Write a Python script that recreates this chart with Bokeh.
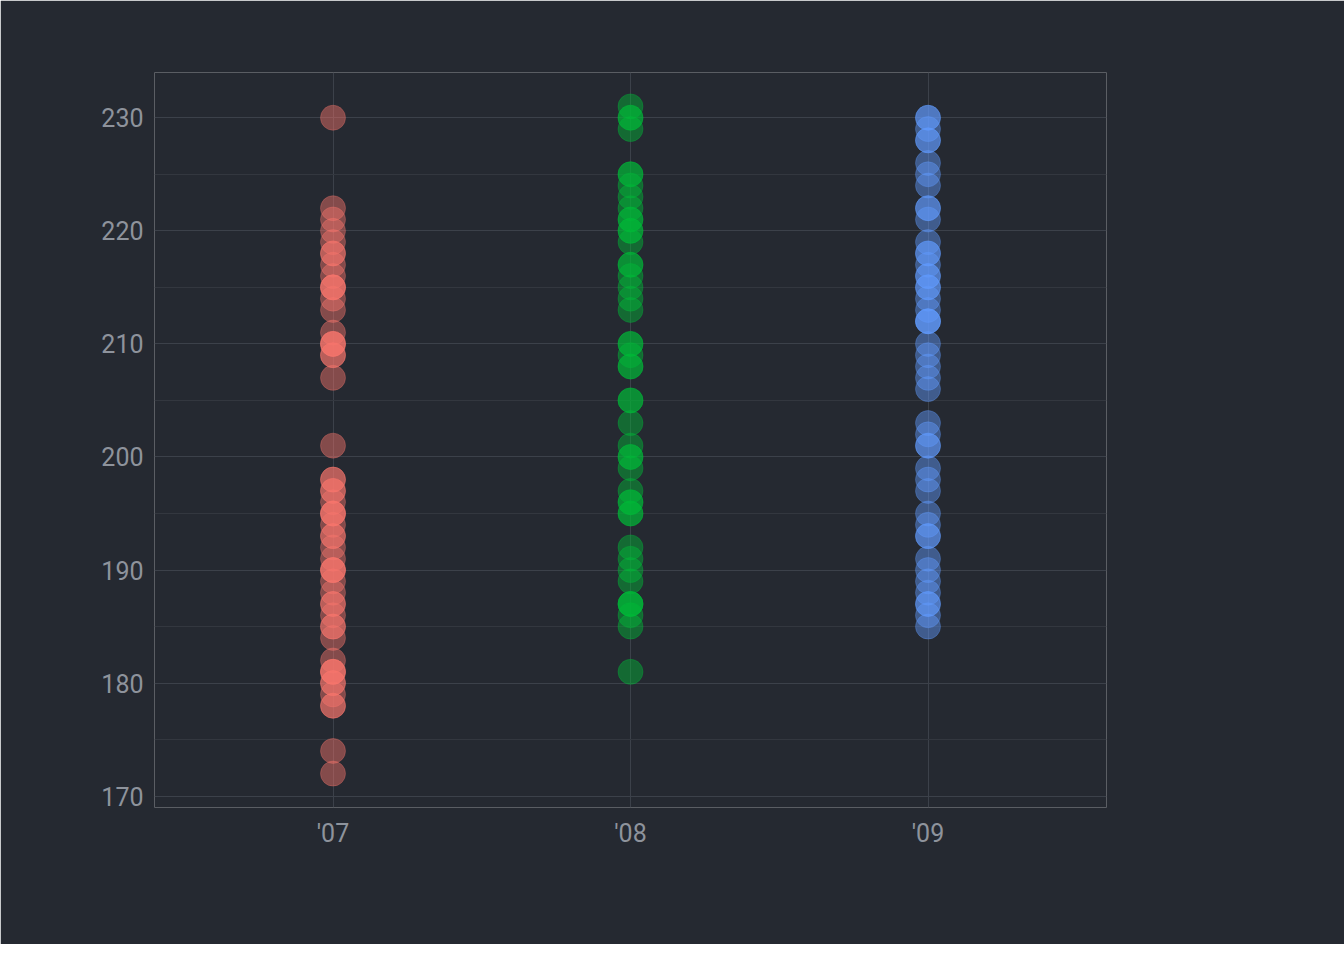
import math
from bokeh.plotting import figure
from bokeh.models import ColumnDataSource, Legend, LegendItem, FixedTicker, Label
from bokeh.embed import file_html
from bokeh.resources import INLINE

years = ["'07", "'08", "'09"]
colors = ["#F8766D", "#00BA38", "#619CFF"]
# (value, count)
vals_07 = [230,222,221,220,219,218,218,217,216,215,215,215,214,213,211,210,210,210,209,209,207,201,198,198,197,197,196,195,195,195,194,193,193,192,191,190,190,190,189,188,187,187,186,185,185,184,182,181,181,181,180,180,179,178,178,174,172]
vals_08 = [231,230,230,229,225,225,224,223,222,221,221,220,220,219,217,217,216,215,214,213,210,210,209,208,208,205,205,203,201,200,200,199,197,196,196,195,195,192,191,190,189,187,187,187,186,185,181]
vals_09 = [230,230,229,228,228,226,225,224,222,222,221,219,218,218,217,216,216,215,215,214,213,212,212,212,210,209,208,207,206,203,202,201,201,199,198,197,195,194,193,193,191,190,189,188,187,187,186,185]
series = [vals_07, vals_08, vals_09]

bg = "#252931"
p = figure(frame_width=952, frame_height=735, output_backend="svg", toolbar_location=None,
           x_range=(0.4, 3.6), y_range=(169, 234), background_fill_color=bg,
           border_fill_color=bg, outline_line_color=None,
           min_border_left=154, min_border_top=72, min_border_bottom=137, min_border_right=60)

items = []
for i, (vals, c, lab) in enumerate(zip(series, colors, years)):
    src = ColumnDataSource(dict(x=[i + 1] * len(vals), y=vals))
    r = p.scatter("x", "y", source=src, size=25, fill_color=c, fill_alpha=0.45,
                  line_color=c, line_alpha=0.3)
    items.append(LegendItem(label=lab, renderers=[r]))

p.xaxis.ticker = FixedTicker(ticks=[1, 2, 3])
p.xaxis.major_label_overrides = {1: "'07", 2: "'08", 3: "'09"}
p.yaxis.ticker = FixedTicker(ticks=[170, 180, 190, 200, 210, 220, 230], minor_ticks=[175, 185, 195, 205, 215, 225])
for ax in (p.xaxis, p.yaxis):
    ax.axis_line_color = None
    ax.major_tick_line_color = None
    ax.minor_tick_line_color = None
    ax.major_label_text_color = "#8e939c"
    ax.major_label_text_font = "Roboto"
    ax.major_label_text_font_size = "25px"
p.xgrid.grid_line_color = "#3c414a"
p.ygrid.grid_line_color = "#3c414a"
p.ygrid.minor_grid_line_color = "#33373f"

p.add_layout(Label(x=3.6, y=169, y_offset=-62, text="year", text_align="right",
                   text_color="#8e939c", text_font="Roboto", text_font_size="21px"))
p.add_layout(Label(x=0.4, y=234, x_offset=-72, text="flipper_length_mm", angle=math.pi / 2,
                   text_align="right", text_baseline="middle",
                   text_color="#8e939c", text_font="Roboto", text_font_size="20px"))

leg = Legend(items=items, location="center", title="year", background_fill_color=bg,
             border_line_color=None, label_text_color="#8e939c", label_text_font="Roboto",
             label_text_font_size="22px", title_text_color="#8e939c", title_text_font="Roboto",
             title_text_font_size="27px", title_text_font_style="normal",
             glyph_width=30, glyph_height=40, spacing=6, label_standoff=18, margin=40)
p.add_layout(leg, "right")

open("out.html", "w").write(file_html(p, INLINE))
